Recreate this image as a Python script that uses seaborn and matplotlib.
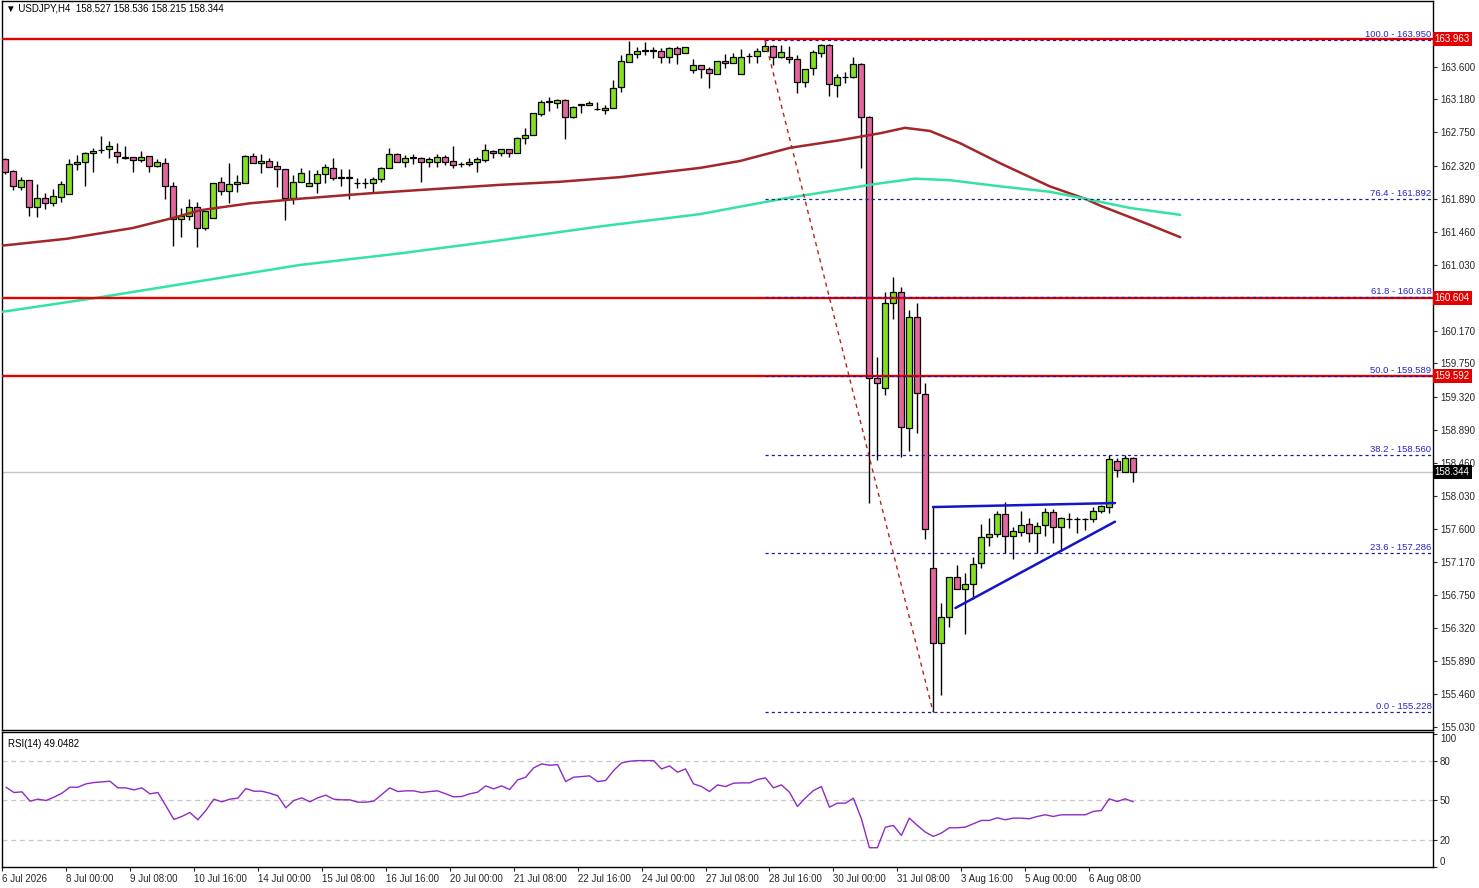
import numpy as np
import pandas as pd
import seaborn as sns
import matplotlib.pyplot as plt
from matplotlib import transforms

# USDJPY H4 candles (open / high / low / close)
opens = [162.41, 162.25, 162.04, 162.13, 161.78, 161.90, 161.83, 161.91, 161.95, 162.34,
         162.37, 162.48, 162.52, 162.54, 162.50, 162.42, 162.43, 162.39, 162.44, 162.31,
         162.35, 162.05, 161.63, 161.67, 161.78, 161.51, 161.64, 162.11, 161.99, 162.08,
         162.09, 162.44, 162.35, 162.38, 162.31, 162.28, 161.90, 162.11, 162.05, 162.09,
         162.21, 162.29, 162.16, 162.16, 162.09, 162.09, 162.09, 162.15, 162.29, 162.47,
         162.37, 162.42, 162.42, 162.37, 162.37, 162.43, 162.38, 162.34, 162.34, 162.37,
         162.39, 162.51, 162.48, 162.54, 162.48, 162.68, 162.72, 162.99, 163.15, 163.13,
         163.17, 162.95, 163.11, 163.11, 163.05, 163.04, 163.07, 163.34, 163.66, 163.77,
         163.81, 163.81, 163.81, 163.73, 163.85, 163.78, 163.56, 163.63, 163.57, 163.51,
         163.68, 163.65, 163.51, 163.74, 163.74, 163.81, 163.87, 163.73, 163.73, 163.70,
         163.41, 163.59, 163.78, 163.89, 163.37, 163.47, 163.47, 163.64, 162.95, 159.56,
         159.43, 160.54, 160.68, 158.91, 160.35, 159.35, 157.09, 156.12, 156.46, 156.98,
         156.82, 156.89, 157.16, 157.50, 157.54, 157.80, 157.51, 157.56, 157.67, 157.55,
         157.65, 157.82, 157.63, 157.73, 157.73, 157.73, 157.73, 157.83, 157.89, 158.48,
         158.34, 158.527]
highs = [162.42, 162.26, 162.17, 162.13, 162.08, 161.96, 162.02, 162.12, 162.41, 162.46,
         162.50, 162.55, 162.70, 162.64, 162.61, 162.57, 162.43, 162.51, 162.44, 162.41,
         162.42, 162.11, 161.77, 161.89, 161.85, 161.73, 162.09, 162.17, 162.35, 162.20,
         162.46, 162.48, 162.47, 162.42, 162.38, 162.28, 162.20, 162.29, 162.26, 162.26,
         162.34, 162.42, 162.28, 162.28, 162.16, 162.16, 162.17, 162.30, 162.55, 162.48,
         162.46, 162.47, 162.43, 162.43, 162.47, 162.46, 162.57, 162.37, 162.42, 162.43,
         162.60, 162.52, 162.54, 162.54, 162.69, 162.81, 163.00, 163.17, 163.21, 163.18,
         163.18, 163.09, 163.12, 163.16, 163.15, 163.11, 163.43, 163.76, 163.94, 163.86,
         163.92, 163.86, 163.85, 163.86, 163.87, 163.86, 163.70, 163.63, 163.60, 163.68,
         163.77, 163.78, 163.83, 163.78, 163.85, 163.95, 163.89, 163.89, 163.87, 163.76,
         163.57, 163.82, 163.90, 163.90, 163.51, 163.53, 163.73, 163.65, 162.96, 159.83,
         160.68, 160.87, 160.74, 160.44, 160.54, 159.50, 157.89, 156.64, 156.98, 157.13,
         157.03, 157.24, 157.67, 157.74, 157.83, 157.95, 157.63, 157.83, 157.74, 157.69,
         157.87, 157.86, 157.76, 157.81, 157.76, 157.74, 157.89, 157.91, 158.56, 158.52,
         158.56, 158.536]
lows = [162.21, 162.00, 162.00, 161.67, 161.65, 161.76, 161.79, 161.85, 161.95, 162.26,
        162.05, 162.24, 162.48, 162.42, 162.35, 162.41, 162.24, 162.37, 162.24, 162.30,
        161.89, 161.28, 161.39, 161.61, 161.26, 161.48, 161.64, 161.94, 161.83, 161.98,
        162.09, 162.35, 162.22, 162.30, 162.04, 161.61, 161.82, 162.11, 162.05, 161.96,
        162.09, 162.13, 162.05, 161.89, 162.03, 162.03, 161.98, 162.11, 162.29, 162.37,
        162.30, 162.34, 162.11, 162.30, 162.30, 162.33, 162.29, 162.30, 162.31, 162.24,
        162.37, 162.42, 162.44, 162.43, 162.48, 162.60, 162.72, 162.96, 163.03, 163.07,
        162.67, 162.94, 163.00, 163.11, 163.04, 162.99, 163.07, 163.28, 163.66, 163.72,
        163.76, 163.72, 163.65, 163.65, 163.64, 163.78, 163.52, 163.46, 163.33, 163.51,
        163.59, 163.65, 163.51, 163.65, 163.65, 163.81, 163.63, 163.72, 163.65, 163.26,
        163.34, 163.50, 163.73, 163.22, 163.21, 163.39, 163.46, 162.29, 157.94, 158.50,
        159.34, 160.33, 158.54, 158.61, 158.85, 157.47, 155.228, 155.45, 156.33, 156.82,
        156.24, 156.69, 157.09, 157.38, 157.50, 157.29, 157.21, 157.51, 157.43, 157.29,
        157.51, 157.42, 157.33, 157.61, 157.55, 157.59, 157.69, 157.81, 157.81, 158.28,
        158.34, 158.215]
closes = [162.24, 162.05, 162.13, 161.78, 161.90, 161.83, 161.92, 162.08, 162.34, 162.37,
          162.48, 162.51, 162.52, 162.57, 162.44, 162.42, 162.39, 162.43, 162.31, 162.37,
          162.05, 161.63, 161.67, 161.78, 161.51, 161.73, 162.09, 161.99, 162.08, 162.11,
          162.44, 162.35, 162.38, 162.30, 162.28, 161.90, 162.11, 162.22, 162.09, 162.21,
          162.30, 162.16, 162.16, 162.16, 162.09, 162.09, 162.15, 162.29, 162.47, 162.37,
          162.42, 162.42, 162.37, 162.41, 162.43, 162.37, 162.33, 162.34, 162.37, 162.41,
          162.52, 162.48, 162.54, 162.48, 162.68, 162.72, 163.00, 163.15, 163.15, 163.17,
          162.95, 163.08, 163.11, 163.13, 163.05, 163.07, 163.33, 163.68, 163.77, 163.81,
          163.81, 163.81, 163.73, 163.85, 163.77, 163.86, 163.63, 163.57, 163.52, 163.68,
          163.65, 163.73, 163.73, 163.74, 163.81, 163.87, 163.73, 163.79, 163.70, 163.41,
          163.57, 163.79, 163.89, 163.38, 163.47, 163.47, 163.64, 162.95, 159.56, 159.50,
          160.54, 160.68, 158.93, 160.35, 159.37, 157.60, 156.12, 156.46, 156.98, 156.82,
          156.89, 157.15, 157.50, 157.54, 157.80, 157.51, 157.58, 157.65, 157.55, 157.64,
          157.82, 157.63, 157.74, 157.73, 157.73, 157.73, 157.83, 157.90, 158.51, 158.37,
          158.52, 158.344]

# RSI(14) per bar
rsi = [60, 56, 56.5, 49.5, 51, 50, 52.5, 55.5, 60, 60,
       62.5, 63.5, 64, 64.5, 59.5, 59.5, 58, 59.5, 55, 56,
       46, 35.75, 38, 41, 35.5, 42.5, 51, 49, 51, 51.75,
       59, 57, 57, 55.5, 53.5, 44.5, 50, 52, 49, 52,
       54, 51, 50.5, 50.5, 48.75, 48.75, 49.5, 54.5, 59.5, 56.75,
       57.25, 57.25, 56, 56.75, 57.25, 55, 52.75, 53, 55, 56.25,
       61, 58.75, 61, 58.25, 65.5, 67.5, 74.5, 77.5, 76.5, 77,
       64.25, 67.5, 68, 68.5, 64.25, 65, 72.5, 78.25, 79.5, 80,
       80, 80, 73.75, 76, 71.25, 73.75, 62.5, 60.5, 56.75, 61.75,
       60.5, 63, 63.25, 63.25, 65.75, 67, 59.5, 61.75, 56.25, 45.5,
       52, 57.5, 60.5, 45, 48, 48, 51.75, 36.25, 14.5, 14.5,
       30, 31.25, 23.75, 36.75, 31.25, 26.25, 23, 25.5, 29.5, 29.5,
       30, 32.5, 35, 35, 37, 35.5, 36.75, 36.75, 36.25, 38,
       39.25, 38, 39.25, 39.25, 39.25, 39.25, 41.75, 42.5, 51.25, 49.25,
       51.25, 49.05]

# moving averages (shifted forward), sampled along the drawn curves
ma_slow_bar = [-0.4, 7.75, 16, 21, 24.4, 30.6, 36.9, 45.6, 54.4, 61.9, 69.4, 76.9, 86.9,
               91.9, 98.1, 104.4, 109.4, 112.5, 115.6, 119.4, 124.4, 130.6, 135, 136.9,
               143.1, 146.9]
ma_slow_val = [161.28, 161.37, 161.51, 161.64, 161.74, 161.83, 161.89, 161.96, 162.02,
               162.07, 162.11, 162.17, 162.29, 162.38, 162.55, 162.65, 162.74, 162.81,
               162.77, 162.61, 162.35, 162.05, 161.89, 161.80, 161.55, 161.39]
ma_fast_bar = [-0.4, 11.9, 24.4, 36.9, 49.4, 61.9, 74.4, 86.9, 97.25, 109.4, 113.75,
               118.1, 124.4, 130.6, 135, 140.6, 146.9]
ma_fast_val = [160.42, 160.61, 160.82, 161.03, 161.18, 161.35, 161.53, 161.69, 161.89,
               162.09, 162.15, 162.13, 162.05, 161.98, 161.89, 161.77, 161.68]

# horizontal levels
red_levels = [163.963, 160.604, 159.592]
last_price = 158.344
fib_pct = ['100.0', '76.4', '61.8', '50.0', '38.2', '23.6', '0.0']
fib_levels = [163.950, 161.892, 160.618, 159.589, 158.560, 157.286, 155.228]
fib_high_bar, fib_low_bar = 95, 116

# hand drawn blue trend lines (bar, price)
flat_line = ([116, 138.75], [157.886, 157.938])
rising_line = ([118.8, 138.75], [156.575, 157.696])

# scale values; 164.030 and 160.600 sit under the price boxes
price_ticks = [164.030, 163.600, 163.180, 162.750, 162.320, 161.890, 161.460, 161.030,
               160.600, 160.170, 159.750, 159.320, 158.890, 158.460, 158.030, 157.600,
               157.170, 156.750, 156.320, 155.890, 155.460, 155.030]
hidden_ticks = [164.030, 160.600]
date_labels = ['6 Jul 2026', '8 Jul 00:00', '9 Jul 08:00', '10 Jul 16:00', '14 Jul 00:00',
               '15 Jul 08:00', '16 Jul 16:00', '20 Jul 00:00', '21 Jul 08:00', '22 Jul 16:00',
               '24 Jul 00:00', '27 Jul 08:00', '28 Jul 16:00', '30 Jul 00:00', '31 Jul 08:00',
               '3 Aug 16:00', '5 Aug 00:00', '6 Aug 08:00']

sns.set_style('white')
plt.rcParams['font.family'] = ['Liberation Sans', 'DejaVu Sans']
plt.rcParams['axes.linewidth'] = 1.0

df = pd.DataFrame({'bar': np.arange(len(opens)), 'open': opens, 'high': highs,
                   'low': lows, 'close': closes, 'rsi': rsi})

W, H = 1479, 888
fig = plt.figure(figsize=(W / 100, H / 100), dpi=100)
ax = fig.add_axes([2 / W, 1 - 730 / H, 1431 / W, 729 / H])
ax_rsi = fig.add_axes([2 / W, 1 - 867 / H, 1431 / W, 135 / H])
xlim = (-0.375, 178.5)

# candles
bull = df['close'] >= df['open']
ax.vlines(df['bar'], df['low'], df['high'], color='black', lw=1, zorder=3)
body = (df['close'] - df['open']).abs().clip(lower=0.006)
ax.bar(df['bar'], body, bottom=np.minimum(df['open'], df['close']), width=0.72,
       color=np.where(bull, '#84df1f', '#e2679f'), edgecolor='black', linewidth=0.9, zorder=4)

# moving averages
sns.lineplot(x=ma_slow_bar, y=ma_slow_val, ax=ax, color='#a3262a', lw=1.8, zorder=5)
sns.lineplot(x=ma_fast_bar, y=ma_fast_val, ax=ax, color='#33e3a4', lw=1.8, zorder=5)

ax.axhline(last_price, color='#c4c4c4', lw=1, zorder=1)
for lvl in red_levels:
    ax.axhline(lvl, color='#e30000', lw=1.7, zorder=6)

ax.hlines(fib_levels, fib_high_bar, xlim[1], colors='#1c1c96', linestyles=(0, (2.5, 2.5)),
          lw=0.9, zorder=6)
for pct, lvl in zip(fib_pct, fib_levels):
    ax.text(xlim[1] - 0.2, lvl + 0.01, f'{pct} - {lvl:.3f}', ha='right', va='bottom',
            fontsize=6.8, color='#2525c8', zorder=7)
ax.plot([fib_high_bar, fib_low_bar], [fib_levels[0], fib_levels[-1]], color='#b82020',
        ls=(0, (3, 3)), lw=1, zorder=6)

ax.plot(*flat_line, color='#1414c8', lw=1.8, zorder=7)
ax.plot(*rising_line, color='#1414c8', lw=1.8, zorder=7)

ax.set_xlim(*xlim)
ax.set_ylim(154.991, 164.457)
ax.set_xticks([])
ax.yaxis.tick_right()
ax.set_yticks(price_ticks)
ax.set_yticklabels(['' if v in hidden_ticks else f'{v:.3f}' for v in price_ticks])
ax.tick_params(axis='y', direction='out', length=3, width=0.8, labelsize=7, pad=2, right=True)
ax.set_xlabel('')
ax.set_ylabel('')

# price boxes on the right scale
trans = transforms.blended_transform_factory(ax.transAxes, ax.transData)
for lvl in red_levels:
    ax.text(1.0012, lvl, f'{lvl:.3f}', transform=trans, ha='left', va='center', fontsize=7,
            color='white', zorder=10, clip_on=False,
            bbox=dict(boxstyle='square,pad=0.22', fc='#e30000', ec='none'))
ax.text(1.0012, last_price, f'{last_price:.3f}', transform=trans, ha='left', va='center',
        fontsize=7, color='white', zorder=10, clip_on=False,
        bbox=dict(boxstyle='square,pad=0.22', fc='black', ec='none'))

ax.text(0.003, 0.997, '\u25bc USDJPY,H4  158.527 158.536 158.215 158.344', transform=ax.transAxes,
        ha='left', va='top', fontsize=7, color='black')

# RSI panel
for lvl in [20, 50, 80]:
    ax_rsi.axhline(lvl, color='#c8c8c8', lw=0.9, ls=(0, (4, 3)), zorder=1)
sns.lineplot(data=df, x='bar', y='rsi', ax=ax_rsi, color='#8e2bc4', lw=1.0, zorder=3)
ax_rsi.set_xlim(*xlim)
ax_rsi.set_ylim(0, 101.5)
ax_rsi.yaxis.tick_right()
ax_rsi.set_yticks([0, 20, 50, 80, 100])
ax_rsi.set_yticklabels(['0', '20', '50', '80', '100'])
ax_rsi.tick_params(axis='y', direction='out', length=3, width=0.8, labelsize=7, pad=2, right=True)
rsi_labels = ax_rsi.get_yticklabels()
rsi_labels[0].set_va('bottom')
rsi_labels[-1].set_va('top')
tick_bars = [8 * k - 0.5 for k in range(len(date_labels))]
ax_rsi.set_xticks(tick_bars)
ax_rsi.set_xticklabels(date_labels, ha='left')
ax_rsi.tick_params(axis='x', direction='out', length=3, width=0.8, labelsize=7, pad=2, bottom=True)
ax_rsi.set_xlabel('')
ax_rsi.set_ylabel('')
ax_rsi.text(0.004, 0.95, 'RSI(14) 49.0482', transform=ax_rsi.transAxes, ha='left', va='top',
            fontsize=7, color='black')

for a in (ax, ax_rsi):
    for s in a.spines.values():
        s.set_color('black')
        s.set_linewidth(1.0)

fig.savefig('out.png', dpi=100)
